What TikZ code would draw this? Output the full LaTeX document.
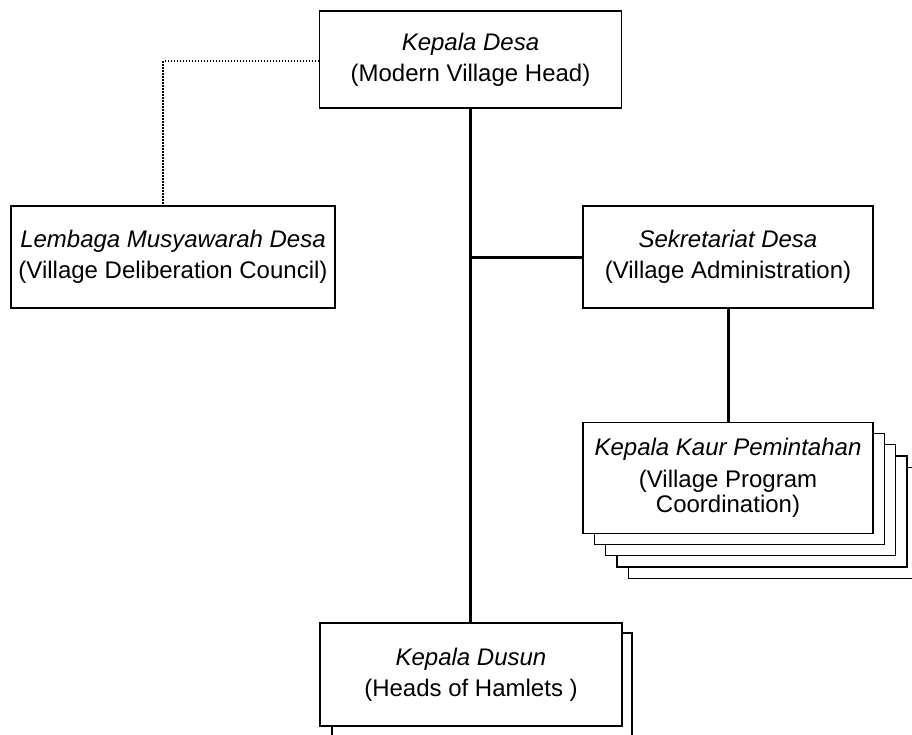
\documentclass[tikz,border=0pt]{standalone}
\usepackage{fontspec}
\setmainfont{Liberation Sans}
\begin{document}
\begin{tikzpicture}[x=1pt,y=-1pt,
  box/.style={draw,rectangle,line width=1.4pt,fill=white,inner sep=0pt,align=center,
    font=\fontsize{24}{31}\selectfont},
  link/.style={line width=3pt},
  dotlink/.style={line width=1.3pt,dash pattern=on 1.3pt off 1.7pt}]
\useasboundingbox (0,0) rectangle (912,734);
\clip (0,0) rectangle (912,734);
% top
\node[box,minimum width=302pt,minimum height=97pt] (kd) at (470.5,59.5)
  {\textit{Kepala Desa}\\(Modern Village Head)};
% left council
\node[box,minimum width=324pt,minimum height=102pt] (lmd) at (173,257)
  {\textit{Lembaga Musyawarah Desa}\\(Village Deliberation Council)};
% secretariat
\node[box,minimum width=290pt,minimum height=102pt] (sek) at (728,257)
  {\textit{Sekretariat Desa}\\(Village Administration)};
% stacked kaur boxes
\foreach \i in {4,3,2,1}{
  \node[box,minimum width=290pt,minimum height=111pt] (kaurback\i) at (728+11.3*\i,477.5+11.3*\i) {};
}
\node[box,minimum width=290pt,minimum height=111pt,font=\fontsize{24}{25}\selectfont] (kaur) at (728,478)
  {\textit{Kepala Kaur Pemintahan}\\[7pt](Village Program\\Coordination)};
% dusun boxes
\node[box,minimum width=300pt,minimum height=103pt] (kdusback) at (482,684.5) {};
\node[box,minimum width=302pt,minimum height=103pt] (kdus) at (471,674.5)
  {\textit{Kepala Dusun}\\(Heads of Hamlets )};
% connectors
\draw[dotlink] (kd.west |- 0,61) -| ([xshift=-10pt]lmd.north);
\draw[link] (kd.south) -- (kd.south |- kdus.north);
\draw[link] (sek.west) -- (sek.west -| kd.south);
\draw[link] (sek.south) -- (kaur.north);
\end{tikzpicture}
\end{document}
